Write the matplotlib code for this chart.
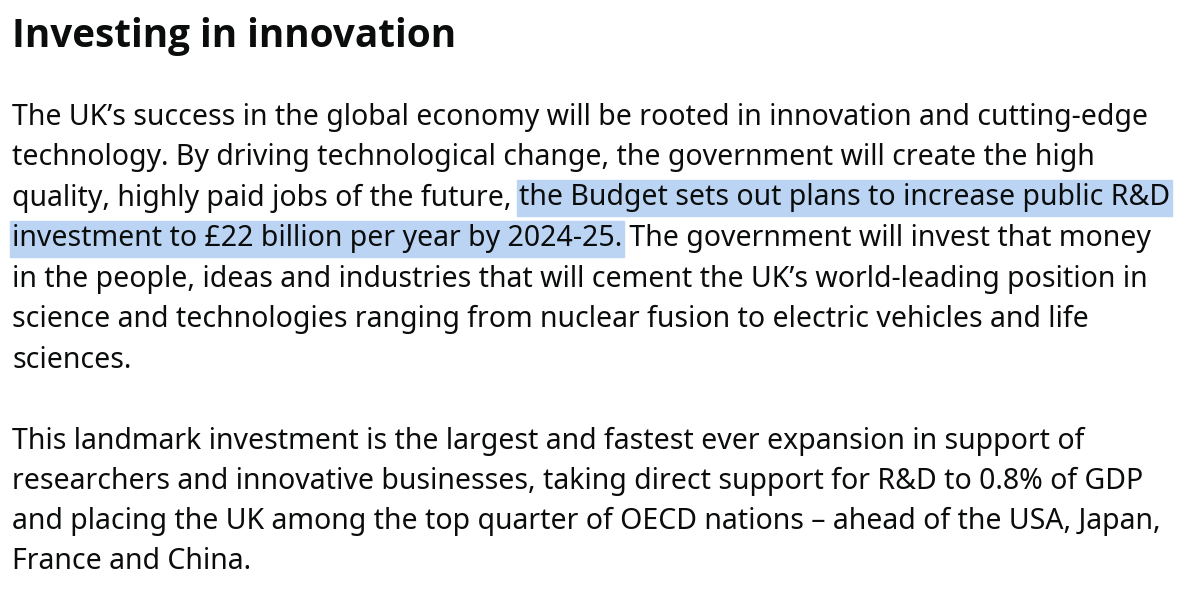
import matplotlib
matplotlib.use("Agg")
import matplotlib.pyplot as plt
from matplotlib.patches import Rectangle

title = "Investing in innovation"
para1 = [
    ("The UK\u2019s success in the global economy will be rooted in innovation and cutting-edge", ""),
    ("technology. By driving technological change, the government will create the high", ""),
    ("quality, highly paid jobs of the future, ", "the Budget sets out plans to increase public R&D"),
    ("", "investment to \u00a322 billion per year by 2024-25."),
    ("in the people, ideas and industries that will cement the UK\u2019s world-leading position in", ""),
    ("science and technologies ranging from nuclear fusion to electric vehicles and life", ""),
    ("sciences.", ""),
]
para1_tail = {3: " The government will invest that money"}
para2 = [
    "This landmark investment is the largest and fastest ever expansion in support of",
    "researchers and innovative businesses, taking direct support for R&D to 0.8% of GDP",
    "and placing the UK among the top quarter of OECD nations \u2013 ahead of the USA, Japan,",
    "France and China.",
]

W, H = 1200, 591
fig = plt.figure(figsize=(12, 5.91), dpi=100)
ax = fig.add_axes([0, 0, 1, 1])
ax.set_xlim(0, W); ax.set_ylim(H, 0); ax.axis("off")
fam = ["Noto Sans", "DejaVu Sans"]
fs = 20.5
col = "#0b0c0c"
hl = "#bbd4f4"
fig.canvas.draw()
r = fig.canvas.get_renderer()

def width(t):
    return t.get_window_extent(r).width

tt = ax.text(12, 37, title, fontsize=26, fontweight="bold", family=["Open Sans", "DejaVu Sans"],
             color=col, va="center")
tw = width(tt)
if tw > 0:
    tt.set_fontsize(26 * 446 / tw)

x0 = 12
y = 117
for i, (pre, hi) in enumerate(para1):
    x = x0
    if pre:
        t = ax.text(x, y, pre, fontsize=fs, family=fam, color=col, va="center")
        x += width(t)
    if hi:
        t = ax.text(x, y, hi, fontsize=fs, family=fam, color=col, va="center", zorder=3)
        w = width(t)
        ax.add_patch(Rectangle((x - 2, y - 18), w + 4, 36, color=hl, zorder=1))
        x += w
    if i in para1_tail:
        ax.text(x, y, para1_tail[i], fontsize=fs, family=fam, color=col, va="center")
    y += 40.5
y = 441
for line in para2:
    ax.text(x0, y, line, fontsize=fs, family=fam, color=col, va="center")
    y += 40.2
fig.savefig("out.png", dpi=100)
